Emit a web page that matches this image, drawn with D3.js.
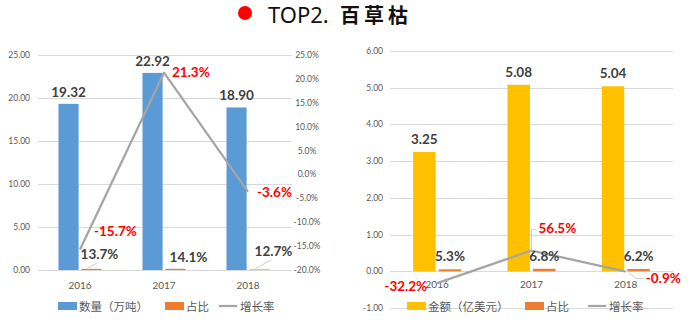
<!DOCTYPE html>
<html>
<head>
<meta charset="utf-8">
<script src="https://cdn.jsdelivr.net/npm/d3@7"></script>
<style>
  html, body { margin: 0; padding: 0; background: #fff; }
  svg { display: block; }
  text { font-family: Lato, "Noto Sans", "Noto Sans CJK SC", sans-serif; }
</style>
</head>
<body>
<svg id="chart" width="700" height="324"></svg>
<script>
// Paraquat (百草枯) exports 2016-2018
const years = ["2016", "2017", "2018"];

// Left panel: volume (10k tonnes), share, growth rate
const volume = [19.32, 22.92, 18.90];
const volumeShare = [0.137, 0.141, 0.127];
const volumeGrowth = [-0.157, 0.213, -0.036];
const volumeTicks = [0, 5, 10, 15, 20, 25];
const growthPctTicks = [-0.20, -0.15, -0.10, -0.05, 0, 0.05, 0.10, 0.15, 0.20, 0.25];

// Right panel: value (100M USD), share, growth rate
const amount = [3.25, 5.08, 5.04];
const amountShare = [0.053, 0.068, 0.062];
const amountGrowth = [-0.322, 0.565, -0.009];
const amountTicks = [-1, 0, 1, 2, 3, 4, 5, 6];

const C = {
  blue: "#5b9bd5", orange: "#ed7d31", orangeLight: "#f6b98f", gold: "#ffc000",
  line: "#a5a5a5", grid: "#d9d9d9", axisText: "#595959", value: "#404040",
  red: "#ff0000", leader: "#bfbfbf"
};

const svg = d3.select("#chart");
// plain hyphen for negatives
const fmtLocale = d3.formatLocale({ decimal: ".", thousands: ",", grouping: [3], currency: ["", ""], minus: "-" });
const pct = fmtLocale.format(".1%");
const num = fmtLocale.format(".2f");

// ---------- title ----------
svg.append("circle").attr("cx", 245).attr("cy", 13).attr("r", 7).attr("fill", "#ff0000");
svg.append("text").attr("x", 268).attr("y", 23)
  .style("font-family", "'Noto Sans', sans-serif").style("font-size", "22px").attr("fill", "#111")
  .text("TOP2.");
svg.append("text").attr("x", 340).attr("y", 23)
  .style("font-family", "'Noto Sans CJK SC', sans-serif").style("font-size", "20px")
  .style("font-weight", 700).style("letter-spacing", "4px").attr("fill", "#111")
  .text("百草枯");

// ---------- helpers ----------
function gridAndLeftAxis(g, y, ticks, x0, x1, fmt, labelX) {
  g.append("g").selectAll("line").data(ticks).join("line")
    .attr("x1", x0).attr("x2", x1)
    .attr("y1", d => Math.round(y(d)) + 0.5).attr("y2", d => Math.round(y(d)) + 0.5)
    .attr("stroke", C.grid).attr("stroke-width", 1);
  g.append("g").selectAll("text").data(ticks).join("text")
    .attr("x", labelX).attr("y", d => y(d) + 3)
    .attr("text-anchor", "end").style("font-size", "8.5px").attr("fill", C.axisText)
    .text(fmt);
}

function legendItem(g, x, y, kind, color, label) {
  if (kind === "rect") {
    g.append("rect").attr("x", x).attr("y", y - 5).attr("width", 19).attr("height", 8).attr("fill", color);
  } else {
    g.append("line").attr("x1", x).attr("x2", x + 18).attr("y1", y - 1).attr("y2", y - 1)
      .attr("stroke", color).attr("stroke-width", 2.25);
  }
  g.append("text").attr("x", x + 21).attr("y", y + 4)
    .style("font-family", "'Noto Sans CJK SC', sans-serif").style("font-size", "11.5px")
    .attr("fill", C.axisText).text(label);
}

// ---------- left panel ----------
{
  const g = svg.append("g");
  const x = d3.scaleBand().domain(years).range([38, 290]).paddingInner(0.488).paddingOuter(0.244);
  const sub = d3.scaleBand().domain([0, 1]).range([0, x.bandwidth()]).paddingInner(0.12);
  const y = d3.scaleLinear().domain([0, 25]).range([270, 55]);
  const y2 = d3.scaleLinear().domain([-0.20, 0.25]).range([270, 55]);
  const cx = d => x(d) + x.bandwidth() / 2;

  gridAndLeftAxis(g, y, volumeTicks, 38, 292, num, 30);

  g.append("g").selectAll("text").data(growthPctTicks).join("text")
    .attr("x", 307).attr("y", d => y2(d) + 3)
    .attr("text-anchor", "middle").style("font-size", "8.5px").attr("fill", C.axisText)
    .text(pct);

  // volume bars
  g.append("g").selectAll("rect").data(volume).join("rect")
    .attr("x", (d, i) => x(years[i]) + sub(0)).attr("width", sub.bandwidth())
    .attr("y", d => y(d)).attr("height", d => y(0) - y(d)).attr("fill", C.blue);
  // share bars
  g.append("g").selectAll("rect").data(volumeShare).join("rect")
    .attr("x", (d, i) => x(years[i]) + sub(1)).attr("width", sub.bandwidth())
    .attr("y", d => y(d)).attr("height", d => y(0) - y(d))
    .attr("fill", (d, i) => i === 2 ? C.orangeLight : C.orange);

  // growth line on the secondary axis
  g.append("path").datum(volumeGrowth)
    .attr("d", d3.line().x((d, i) => cx(years[i])).y(d => y2(d)))
    .attr("fill", "none").attr("stroke", C.line).attr("stroke-width", 2.25).attr("stroke-linejoin", "round");

  // volume labels
  g.append("g").selectAll("text").data(volume).join("text")
    .attr("x", (d, i) => x(years[i]) + sub(0) + sub.bandwidth() / 2).attr("y", d => y(d) - 7)
    .attr("text-anchor", "middle").style("font-size", "13.5px").style("font-weight", 700)
    .attr("fill", C.value).text(num);

  // share labels with leader lines
  const shareOff = [[8, -10], [13, -7], [14, -13]];
  const sharePos = volumeShare.map((d, i) => {
    const bx = x(years[i]) + sub(1) + sub.bandwidth() / 2;
    return { d, bx, by: y(d), lx: bx + shareOff[i][0], ly: y(d) + shareOff[i][1] };
  });
  g.append("g").selectAll("line").data(sharePos.filter((p, i) => i !== 1)).join("line")
    .attr("x1", p => p.bx - 4).attr("y1", p => p.by - 0.5)
    .attr("x2", p => p.lx - 2).attr("y2", p => p.ly + 4)
    .attr("stroke", C.leader).attr("stroke-width", 0.8);
  g.append("g").selectAll("text").data(sharePos).join("text")
    .attr("x", p => p.lx).attr("y", p => p.ly)
    .attr("text-anchor", "middle").style("font-size", "13.5px").style("font-weight", 700)
    .attr("fill", C.value).text(p => pct(p.d));

  // growth labels
  const growOff = [[14, -13], [8, 4], [9, 5]];
  g.append("g").selectAll("text").data(volumeGrowth).join("text")
    .attr("x", (d, i) => cx(years[i]) + growOff[i][0]).attr("y", (d, i) => y2(d) + growOff[i][1])
    .style("font-size", "13.5px").style("font-weight", 700).attr("fill", C.red).text(pct);

  // category labels
  g.append("g").selectAll("text").data(years).join("text")
    .attr("x", d => cx(d)).attr("y", 289).attr("text-anchor", "middle")
    .style("font-size", "10px").attr("fill", C.axisText).text(d => d);

  const lg = g.append("g");
  legendItem(lg, 58, 307, "rect", C.blue, "数量（万吨）");
  legendItem(lg, 165, 307, "rect", C.orange, "占比");
  legendItem(lg, 219, 307, "line", C.line, "增长率");
}

// ---------- right panel ----------
{
  const g = svg.append("g");
  const x = d3.scaleBand().domain(years).range([390, 673]).paddingInner(0.49).paddingOuter(0.245);
  const sub = d3.scaleBand().domain([0, 1]).range([0, x.bandwidth()]).paddingInner(0.125);
  const y = d3.scaleLinear().domain([-1, 6]).range([308, 51]);
  const cx = d => x(d) + x.bandwidth() / 2;

  gridAndLeftAxis(g, y, amountTicks, 390, 673, num, 383);

  g.append("g").selectAll("rect").data(amount).join("rect")
    .attr("x", (d, i) => x(years[i]) + sub(0)).attr("width", sub.bandwidth())
    .attr("y", d => y(d)).attr("height", d => y(0) - y(d)).attr("fill", C.gold);
  g.append("g").selectAll("rect").data(amountShare).join("rect")
    .attr("x", (d, i) => x(years[i]) + sub(1)).attr("width", sub.bandwidth())
    .attr("y", d => y(d)).attr("height", d => y(0) - y(d)).attr("fill", C.orange);

  // category labels sit just under the zero line
  g.append("g").selectAll("text").data(years).join("text")
    .attr("x", d => cx(d)).attr("y", y(0) + 17).attr("text-anchor", "middle")
    .style("font-size", "10px").attr("fill", C.axisText).text(d => d);

  // growth line drawn on the primary scale
  g.append("path").datum(amountGrowth)
    .attr("d", d3.line().x((d, i) => cx(years[i])).y(d => y(d)))
    .attr("fill", "none").attr("stroke", C.line).attr("stroke-width", 2.25).attr("stroke-linejoin", "round");

  g.append("g").selectAll("text").data(amount).join("text")
    .attr("x", (d, i) => x(years[i]) + sub(0) + sub.bandwidth() / 2).attr("y", d => y(d) - 8)
    .attr("text-anchor", "middle").style("font-size", "13.5px").style("font-weight", 700)
    .attr("fill", C.value).text(num);

  g.append("g").selectAll("text").data(amountShare).join("text")
    .attr("x", (d, i) => x(years[i]) + sub(1) + sub.bandwidth() / 2).attr("y", d => y(d) - 8)
    .attr("text-anchor", "middle").style("font-size", "13.5px").style("font-weight", 700)
    .attr("fill", C.value).text(pct);

  // leader lines for the growth labels
  const p1 = [cx(years[1]), y(amountGrowth[1])];
  g.append("path").attr("d", `M${p1[0]},${p1[1]}V${p1[1] - 21}H${p1[0] + 4}`)
    .attr("fill", "none").attr("stroke", C.leader).attr("stroke-width", 0.8);
  const p2 = [cx(years[2]), y(amountGrowth[2])];
  g.append("path").attr("d", `M${p2[0] + 3},${p2[1] + 1}L${p2[0] + 10},${p2[1] + 7}H${p2[0] + 18}`)
    .attr("fill", "none").attr("stroke", C.leader).attr("stroke-width", 0.8);

  const growOff = [[-10, 8, "end"], [7, -18, "start"], [20, 11, "start"]];
  g.append("g").selectAll("text").data(amountGrowth).join("text")
    .attr("x", (d, i) => cx(years[i]) + growOff[i][0]).attr("y", (d, i) => y(d) + growOff[i][1])
    .attr("text-anchor", (d, i) => growOff[i][2])
    .style("font-size", "13.5px").style("font-weight", 700).attr("fill", C.red).text(pct);

  const lg = g.append("g");
  legendItem(lg, 407, 307, "rect", C.gold, "金额（亿美元）");
  legendItem(lg, 525, 307, "rect", C.orange, "占比");
  legendItem(lg, 588, 307, "line", C.line, "增长率");
}
</script>
</body>
</html>
